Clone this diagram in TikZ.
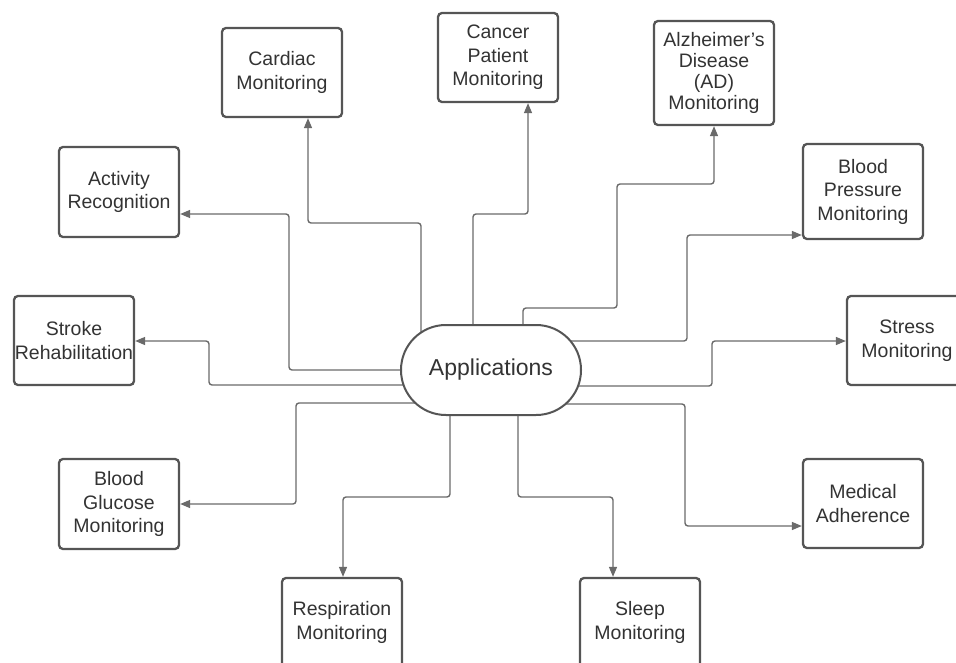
\documentclass[tikz,border=0pt]{standalone}
\usepackage{fontspec}
\setmainfont{Liberation Sans}
\usetikzlibrary{arrows.meta,backgrounds}
\definecolor{boxline}{HTML}{555555}
\definecolor{connline}{HTML}{6A6A6A}
\definecolor{txt}{HTML}{333333}
\begin{document}
\begin{tikzpicture}[x=1pt,y=-1pt,
  appbox/.style={draw=boxline,line width=2pt,fill=white,minimum width=180pt,minimum height=90pt,
    rounded corners=44.9pt,inner sep=0pt,text=txt,font=\fontsize{23}{27}\selectfont},
  itembox/.style={draw=boxline,line width=2.3pt,fill=white,minimum width=120pt,minimum height=89pt,
    rounded corners=4pt,inner sep=0pt,align=center,text=txt,font=\fontsize{19.5}{23.5}\selectfont},
  conn/.style={draw=connline,line width=1.4pt,rounded corners=3pt},
  arr/.style={conn,-{Triangle[length=10pt,width=8pt]}}]
\useasboundingbox (0,0) rectangle (956,663);
\clip (0,0) rectangle (956,663);

\node[appbox] (app) at (491,370) {Applications};

\node[itembox] (cardiac) at (282,72.5) {Cardiac\\Monitoring};
\node[itembox] (cancer) at (498,57.5) {Cancer\\Patient\\Monitoring};
\node[itembox,minimum height=104pt,font=\fontsize{19.5}{20.7}\selectfont] (alz) at (714,73) {Alzheimer’s\\Disease\\(AD)\\Monitoring};
\node[itembox,minimum height=90pt] (act) at (119,192) {Activity\\Recognition};
\node[itembox,minimum height=95pt] (bp) at (863,191.5) {Blood\\Pressure\\Monitoring};
\node[itembox] (stroke) at (74,340.5) {Stroke\\Rehabilitation};
\node[itembox] (stress) at (907,340.5) {Stress\\Monitoring};
\node[itembox,minimum height=90pt] (bg) at (119,504) {Blood\\Glucose\\Monitoring};
\node[itembox] (med) at (863,503.5) {Medical\\Adherence};
\node[itembox] (resp) at (342,622.5) {Respiration\\Monitoring};
\node[itembox] (sleep) at (640,622.5) {Sleep\\Monitoring};

\coordinate (a1) at (421,223); \coordinate (a2) at (308,223);
\coordinate (b1) at (473,214); \coordinate (b2) at (528,214);
\coordinate (c1) at (523,308); \coordinate (c2) at (617,308);
\coordinate (c3) at (617,184); \coordinate (c4) at (714,184);
\coordinate (d1) at (687,341); \coordinate (d2) at (687,235);
\coordinate (e1) at (712,386); \coordinate (e2) at (712,341);
\coordinate (f1) at (685,404); \coordinate (f2) at (685,526);
\coordinate (g1) at (518,497); \coordinate (g2) at (613,497);
\coordinate (h1) at (450,497); \coordinate (h2) at (343,497);
\coordinate (i1) at (296,403); \coordinate (i2) at (296,504);
\coordinate (j1) at (209,385); \coordinate (j2) at (209,341);
\coordinate (k1) at (289,370); \coordinate (k2) at (289,214);

\begin{scope}[on background layer]
\draw[arr] (app.center -| a1) -- (a1) -- (a2) -- (a2 |- cardiac.south);
\draw[arr] (app.center -| b1) -- (b1) -- (b2) -- (b2 |- cancer.south);
\draw[arr] (app.center -| c1) -- (c1) -- (c2) -- (c3) -- (c4) -- (c4 |- alz.south);
\draw[arr] (app.center |- d1) -- (d1) -- (d2) -- (d2 -| bp.west);
\draw[arr] (app.center |- e1) -- (e1) -- (e2) -- (e2 -| stress.west);
\draw[arr] (app.center |- f1) -- (f1) -- (f2) -- (f2 -| med.west);
\draw[arr] (app.center -| g1) -- (g1) -- (g2) -- (g2 |- sleep.north);
\draw[arr] (app.center -| h1) -- (h1) -- (h2) -- (h2 |- resp.north);
\draw[arr] (app.center |- i1) -- (i1) -- (i2) -- (i2 -| bg.east);
\draw[arr] (app.center |- j1) -- (j1) -- (j2) -- (j2 -| stroke.east);
\draw[arr] (app.center |- k1) -- (k1) -- (k2) -- (k2 -| act.east);
\end{scope}
\end{tikzpicture}
\end{document}
